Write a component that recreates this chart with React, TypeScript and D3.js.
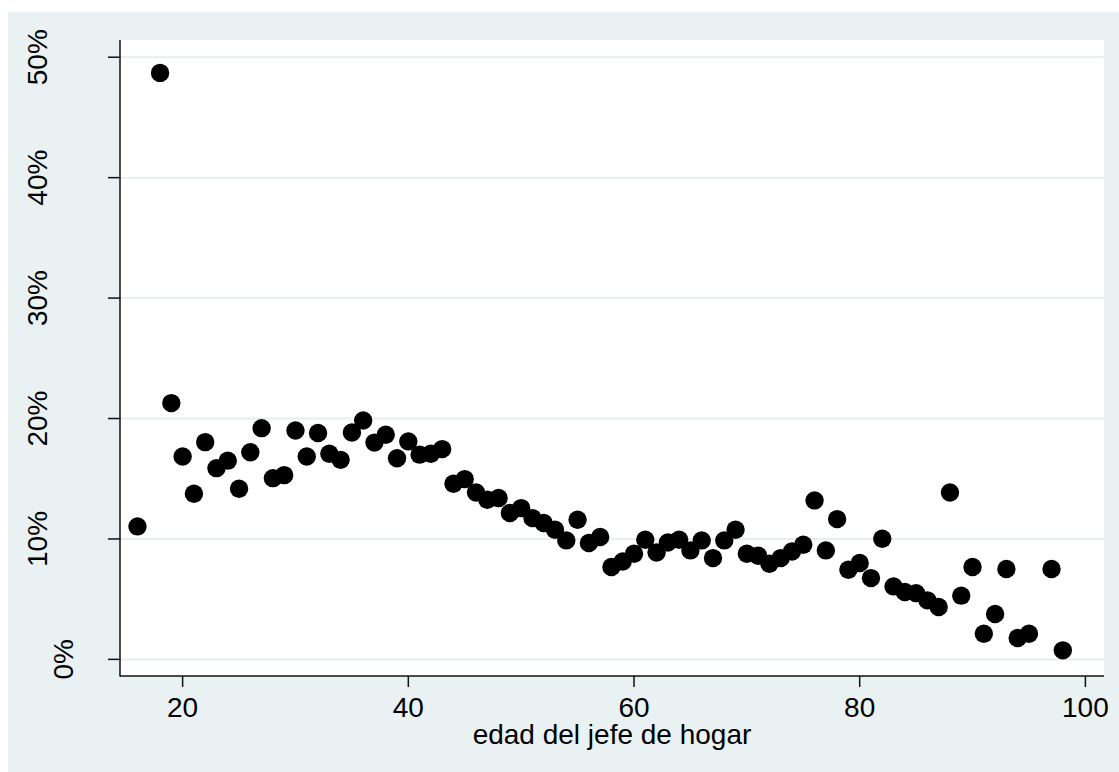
import React from "react";
import * as d3 from "d3";

const ages = [16, 18, 19, 20, 21, 22, 23, 24, 25, 26, 27, 28, 29, 30, 31, 32, 33, 34, 35, 36, 37, 38, 39, 40, 41, 42, 43, 44, 45, 46, 47, 48, 49, 50, 51, 52, 53, 54, 55, 56, 57, 58, 59, 60, 61, 62, 63, 64, 65, 66, 67, 68, 69, 70, 71, 72, 73, 74, 75, 76, 77, 78, 79, 80, 81, 82, 83, 84, 85, 86, 87, 88, 89, 90, 91, 92, 93, 94, 95, 97, 98];
const shares = [11.04, 48.7, 21.28, 16.85, 13.75, 18.04, 15.88, 16.5, 14.17, 17.2, 19.2, 15.05, 15.3, 19.0, 16.85, 18.8, 17.07, 16.57, 18.84, 19.83, 18.0, 18.65, 16.7, 18.1, 17.0, 17.07, 17.46, 14.58, 14.97, 13.86, 13.25, 13.4, 12.15, 12.56, 11.73, 11.32, 10.76, 9.88, 11.6, 9.66, 10.16, 7.67, 8.13, 8.77, 9.93, 8.88, 9.71, 9.93, 9.05, 9.88, 8.41, 9.88, 10.76, 8.77, 8.6, 7.94, 8.41, 8.96, 9.52, 13.2, 9.05, 11.65, 7.44, 8.0, 6.75, 10.02, 6.06, 5.6, 5.5, 4.9, 4.35, 13.86, 5.29, 7.67, 2.13, 3.77, 7.5, 1.78, 2.13, 7.5, 0.75];
const xTicks = [20, 40, 60, 80, 100];
const yTicks = [0, 0.1, 0.2, 0.3, 0.4, 0.5];
const xTitle = "edad del jefe de hogar";

const W = 1119;
const H = 772;
const left = 120;
const right = 1104;
const top = 40;
const bottom = 676;

export default function App() {
  const x = d3.scaleLinear().domain([14.45, 101.65]).range([left, right]);
  const y = d3.scaleLinear().domain([-0.0138, 0.5143]).range([bottom, top]);
  const fmt = d3.format(".0%");
  const font = "'Liberation Sans', Arial, Helvetica, sans-serif";
  const bg = "#e9f1f3";
  return (
    <svg width={W} height={H} style={{ position: "absolute", left: 0, top: 0 }} fontFamily={font}>
      <rect x={0} y={0} width={W} height={H} fill="#ffffff" />
      <rect x={8} y={12} width={W - 8} height={H - 12} fill={bg} />
      <rect x={left} y={top} width={right - left} height={bottom - top} fill="#ffffff" />
      {yTicks.map((t) => (
        <line key={"g" + t} x1={left} x2={right} y1={y(t)} y2={y(t)} stroke="#e6eef1" strokeWidth={2} />
      ))}
      {ages.map((a, i) => (
        <circle key={a} cx={x(a)} cy={y(shares[i] / 100)} r={9.2} fill="#000000" />
      ))}
      <line x1={left} x2={left} y1={top} y2={bottom + 0.5} stroke="#111" strokeWidth={1.5} />
      <line x1={left} x2={right} y1={bottom} y2={bottom} stroke="#111" strokeWidth={1.5} />
      {yTicks.map((t) => (
        <g key={"y" + t}>
          <line x1={left - 12} x2={left} y1={y(t)} y2={y(t)} stroke="#111" strokeWidth={1.5} />
          <text
            transform={`translate(${t === 0 ? 73 : 47},${y(t)}) rotate(-90)`}
            textAnchor="middle"
            fontSize={28}
            fill="#000"
          >
            {fmt(t)}
          </text>
        </g>
      ))}
      {xTicks.map((t) => (
        <g key={"x" + t}>
          <line x1={x(t)} x2={x(t)} y1={bottom} y2={bottom + 11} stroke="#111" strokeWidth={1.5} />
          <text x={x(t)} y={717} textAnchor="middle" fontSize={28} fill="#000">
            {t}
          </text>
        </g>
      ))}
      <text x={(left + right) / 2} y={744} textAnchor="middle" fontSize={28} fill="#000">
        {xTitle}
      </text>
    </svg>
  );
}
